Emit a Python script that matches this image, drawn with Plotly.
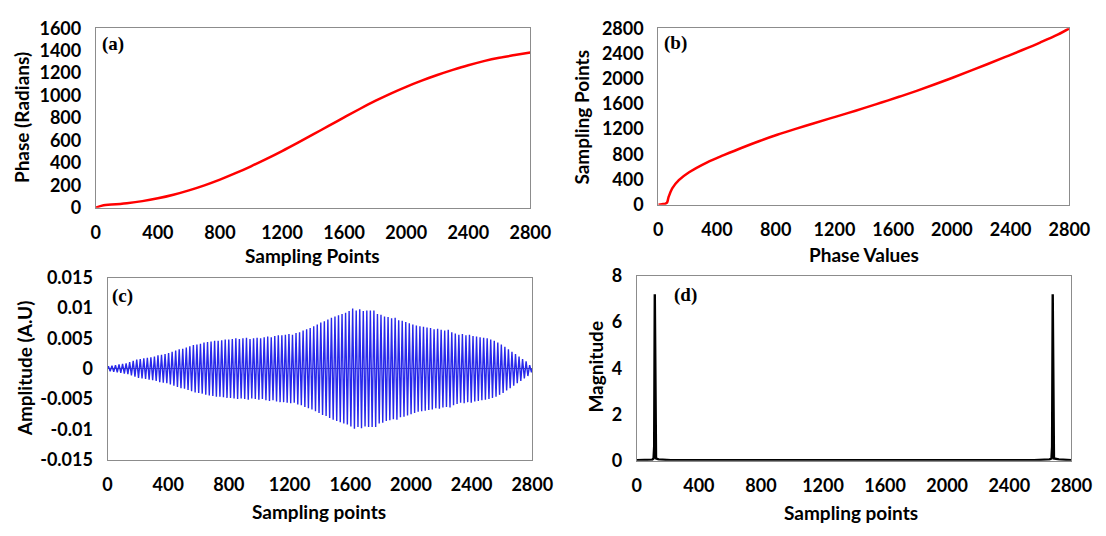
import plotly.graph_objects as go

W, H = 1106, 536

# ---------------- data ----------------
x_ticks = [0, 400, 800, 1200, 1600, 2000, 2400, 2800]
x_ticktext = ["0", "400", "800", "1200", "1600", "2000", "2400", "2800"]

# (a) phase vs sampling points
a_x = [0, 50, 100, 200, 300, 400, 500, 600, 700, 800, 900, 1000, 1100, 1200, 1300,
       1400, 1500, 1600, 1700, 1800, 1900, 2000, 2100, 2200, 2300, 2400, 2500, 2600, 2700, 2800]
a_y = [0, 22, 27, 40, 58, 83, 115, 154, 199, 250, 307, 369, 435, 505, 578,
       653, 729, 805, 880, 952, 1018, 1078, 1133, 1183, 1229, 1271, 1307, 1337, 1361, 1384]
a_yticks = [0, 200, 400, 600, 800, 1000, 1200, 1400, 1600]

# (b) sampling points vs phase values
b_x = [0, 25, 50, 60, 70, 95, 140, 210, 330, 450, 570, 690, 810, 930, 1050, 1170, 1290,
       1400, 1520, 1640, 1760, 1880, 2000, 2120, 2240, 2360, 2480, 2600, 2720, 2800]
b_y = [0, 8, 18, 35, 120, 260, 390, 515, 670, 790, 905, 1012, 1110, 1200, 1286, 1370, 1454,
       1533, 1622, 1713, 1808, 1908, 2012, 2120, 2230, 2342, 2456, 2574, 2700, 2800]
b_yticks = [0, 400, 800, 1200, 1600, 2000, 2400, 2800]

# (c) amplitude of each oscillation cycle (x 1e-3), 120 cycles over 2800 samples
c_cycles = 120
c_amp = [0.4, 0.5, 0.6, 0.7, 0.8, 0.9, 1.1, 1.3, 1.5, 1.6,
         1.7, 1.8, 1.9, 2.0, 2.2, 2.3, 2.4, 2.6, 2.8, 3.0,
         3.2, 3.3, 3.5, 3.7, 3.9, 4.0, 4.1, 4.3, 4.4, 4.5,
         4.6, 4.6, 4.7, 4.8, 4.8, 4.9, 5.0, 4.9, 5.0, 5.1,
         4.9, 5.0, 5.1, 5.0, 5.2, 5.3, 5.2, 5.4, 5.5, 5.5,
         5.6, 5.7, 5.6, 5.9, 6.0, 6.3, 6.5, 6.7, 7.0, 7.3,
         7.6, 7.8, 8.1, 8.4, 8.6, 8.8, 9.0, 9.2, 9.5, 9.9,
         9.6, 9.8, 9.5, 9.6, 9.6, 9.6, 9.0, 8.9, 8.6, 8.5,
         8.3, 8.4, 8.0, 7.9, 7.7, 7.5, 7.3, 7.1, 7.0, 6.9,
         6.8, 6.7, 6.5, 6.6, 6.4, 6.3, 6.4, 6.0, 5.8, 5.6,
         5.7, 5.5, 5.6, 5.4, 5.3, 5.2, 5.1, 5.0, 4.8, 4.6,
         4.3, 4.0, 3.6, 3.2, 2.8, 2.4, 2.0, 1.6, 1.2, 0.6]
c_yticks = [-0.015, -0.01, -0.005, 0, 0.005, 0.01, 0.015]
c_yticktext = ["-0.015", "-0.01", "-0.005", "0", "0.005", "0.01", "0.015"]

# (d) magnitude spectrum
d_x = [0, 40, 80, 100, 108, 112, 116, 120, 124, 140, 180, 220,
       2560, 2620, 2660, 2672, 2676, 2680, 2684, 2688, 2720, 2760, 2800]
d_y = [0.03, 0.05, 0.06, 0.05, 0.1, 0.6, 7.2, 0.6, 0.1, 0.06, 0.05, 0.03,
       0.03, 0.05, 0.06, 0.1, 0.6, 7.2, 0.6, 0.1, 0.06, 0.05, 0.03]
d_yticks = [0, 2, 4, 6, 8]

# ---------------- build (c) signal from cycle amplitudes ----------------
period = 2800 / c_cycles
c_x, c_y = [0], [0]
for i, a in enumerate(c_amp):
    c_x += [i * period + period / 4, i * period + 3 * period / 4]
    c_y += [a * 1e-3, -a * 1e-3]
c_x.append(2800)
c_y.append(0)

# ---------------- figure ----------------
fig = go.Figure()
fig.add_trace(go.Scatter(x=a_x, y=a_y, mode="lines", line=dict(color="#ff0000", width=2.5, shape="spline"),
                         xaxis="x", yaxis="y", showlegend=False))
fig.add_trace(go.Scatter(x=b_x, y=b_y, mode="lines", line=dict(color="#ff0000", width=2.5, shape="spline"),
                         xaxis="x2", yaxis="y2", showlegend=False))
fig.add_trace(go.Scatter(x=c_x, y=c_y, mode="lines", line=dict(color="rgb(40,40,235)", width=1.4),
                         xaxis="x3", yaxis="y3", showlegend=False))
fig.add_trace(go.Scatter(x=d_x, y=d_y, mode="lines", line=dict(color="black", width=2.4),
                         xaxis="x4", yaxis="y4", showlegend=False))


def px_x(p):
    return p / W


def px_y(p):
    return 1 - p / H


TICKFONT = dict(family="Lato", size=18, color="black", weight="bold")
TITLEFONT = dict(family="Lato", size=19, color="black", weight="bold")
LINE = dict(showline=True, mirror=True, linecolor="rgb(140,140,140)", linewidth=1,
            showgrid=False, zeroline=False, ticks="", tickfont=TICKFONT)

boxes = {
    "": (93, 538, 17, 204),
    "2": (669, 1090, 17, 201),
    "3": (105, 540, 277, 467),
    "4": (647, 1092, 275, 468),
}
yspecs = {
    "": dict(range=[0, 1600], tickvals=a_yticks),
    "2": dict(range=[0, 2800], tickvals=b_yticks),
    "3": dict(range=[-0.015, 0.015], tickvals=c_yticks, ticktext=c_yticktext,
              zeroline=True, zerolinecolor="rgb(90,90,130)", zerolinewidth=1),
    "4": dict(range=[0, 8], tickvals=d_yticks),
}
layout = {}
for k, (l, r, t, b) in boxes.items():
    layout["xaxis" + k] = dict(LINE, domain=[px_x(l), px_x(r)], range=[0, 2800],
                               tickvals=x_ticks, ticktext=x_ticktext,
                               anchor="y" + k, ticklabelstandoff=9)
    layout["yaxis" + k] = dict(LINE, domain=[px_y(b), px_y(t)], anchor="x" + k,
                               ticklabelstandoff=10, **yspecs[k])

ann = []
# panel labels
for txt, x, y in [("(a)", 97, 33), ("(b)", 673, 32), ("(c)", 108, 296), ("(d)", 683, 295)]:
    ann.append(dict(text=txt, x=px_x(x), y=px_y(y), xref="paper", yref="paper",
                    xanchor="left", yanchor="middle", showarrow=False,
                    font=dict(family="Liberation Serif", size=19, color="black", weight="bold")))
# x titles
for txt, x, y in [("Sampling Points", 315, 254), ("Phase Values", 880, 253),
                  ("Sampling points", 322, 521), ("Sampling points", 866, 522)]:
    ann.append(dict(text=txt, x=px_x(x), y=px_y(y), xref="paper", yref="paper",
                    xanchor="center", yanchor="middle", showarrow=False, font=TITLEFONT))
# y titles
for txt, x, y in [("Phase (Radians)", 17, 110), ("Sampling Points", 590, 110),
                  ("Amplitude (A.U)", 20, 372), ("Magnitude", 605, 370)]:
    ann.append(dict(text=txt, x=px_x(x), y=px_y(y), xref="paper", yref="paper",
                    xanchor="center", yanchor="middle", showarrow=False, textangle=-90,
                    font=TITLEFONT))

fig.update_layout(width=W, height=H, margin=dict(l=0, r=0, t=0, b=0),
                  paper_bgcolor="white", plot_bgcolor="white", annotations=ann, **layout)

fig.write_html("out.html")
